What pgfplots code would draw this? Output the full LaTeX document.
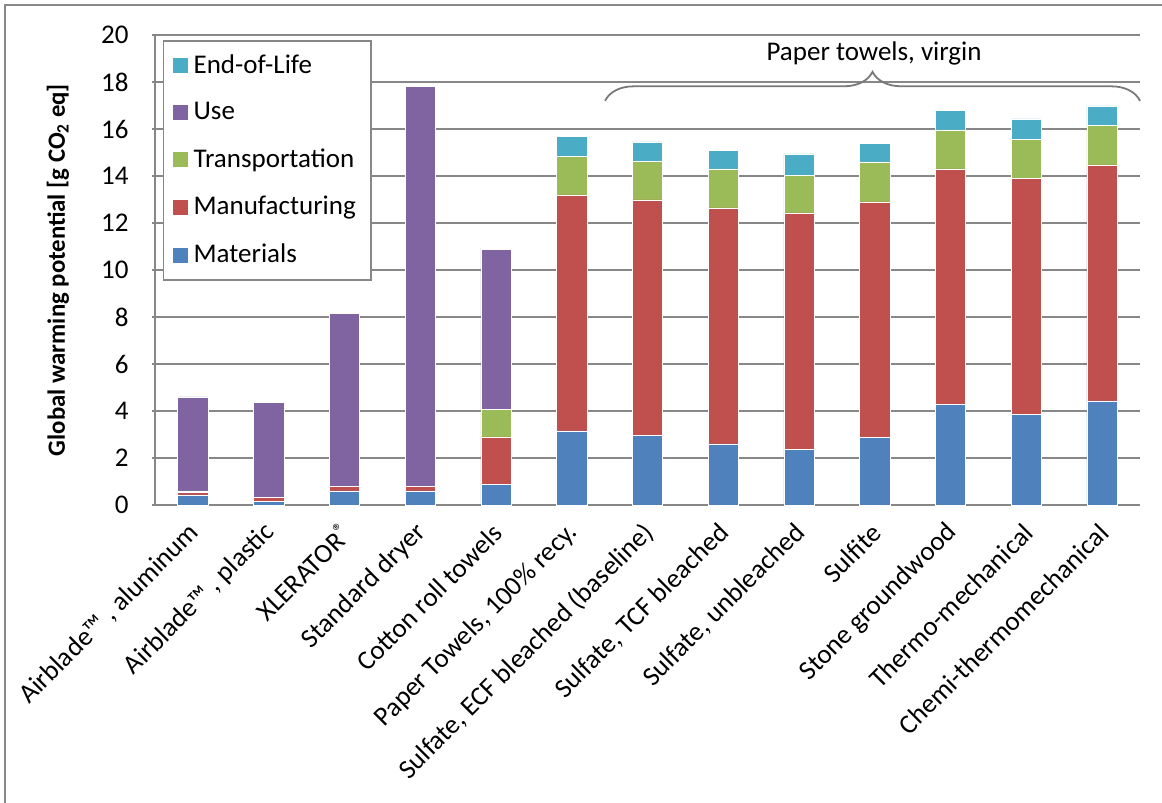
\documentclass[border=0pt]{standalone}
\usepackage{fontspec}
\setmainfont{Carlito}
\usepackage{pgfplots}
\usepackage{pgfplotstable}
\pgfplotsset{compat=1.18}
\usetikzlibrary{decorations.pathreplacing}

\definecolor{cmat}{HTML}{4F81BD}
\definecolor{cman}{HTML}{C0504D}
\definecolor{ctra}{HTML}{9BBB59}
\definecolor{cuse}{HTML}{8064A2}
\definecolor{ceol}{HTML}{4BACC6}
\definecolor{cgrid}{HTML}{878787}

% x  materials  manufacturing  transport  use  eol
\pgfplotstableread{
x  mat   man    tra   use    eol
0  0.43  0.12   0.05  4.00   0.00
1  0.15  0.18   0.00  4.02   0.00
2  0.60  0.20   0.00  7.35   0.00
3  0.60  0.18   0.00  17.02  0.00
4  0.88  2.02   1.18  6.80   0.05
5  3.15  10.05  1.65  0.00   0.85
6  2.95  10.03  1.65  0.00   0.82
7  2.60  10.04  1.66  0.00   0.80
8  2.37  10.06  1.61  0.00   0.90
9  2.87  10.03  1.70  0.00   0.80
10 4.27  10.03  1.66  0.00   0.84
11 3.85  10.05  1.67  0.00   0.86
12 4.43  10.04  1.70  0.00   0.81
}\gwp

\newcommand{\reg}{\raisebox{0.6ex}{\fontsize{10}{10}\selectfont ®}}

\begin{document}
\fontsize{13.5}{16}\selectfont
\begin{tikzpicture}
\useasboundingbox (-77.5pt,-149pt) rectangle (503.5pt,252.5pt);
\draw[cgrid, line width=0.75pt] (-75pt,-149pt) -- (-75pt,250pt) -- (503.5pt,250pt);
\begin{axis}[
    at={(0pt,0pt)}, anchor=south west,
    scale only axis,
    width=492.5pt, height=235pt,
    ybar stacked,
    bar width=0.4,
    xmin=-0.5, xmax=12.5,
    ymin=0, ymax=20,
    ytick={0,2,...,20},
    xtick={0,...,12},
    xticklabels={
        {Airblade™ , aluminum},
        {Airblade™ , plastic},
        {XLERATOR\reg},
        {Standard dryer},
        {Cotton roll towels},
        {Paper Towels, 100\% recy.},
        {Sulfate, ECF bleached (baseline)},
        {Sulfate, TCF bleached},
        {Sulfate, unbleached},
        {Sulfite},
        {Stone groundwood},
        {Thermo-mechanical},
        {Chemi-thermomechanical}},
    minor xtick={-0.5,0.5,...,12.5},
    xtick style={draw=none},
    minor tick length=3.5pt,
    major tick length=3pt,
    tick align=inside,
    tick style={cgrid, line width=0.75pt},
    axis x line=bottom, axis y line=left,
    axis line style={cgrid, line width=0.75pt, -},
    ymajorgrids=true,
    grid style={cgrid, line width=0.65pt},
    /pgf/number format/assume math mode=true,
    yticklabel style={xshift=-7pt},
    xticklabel style={xshift=4.2pt, yshift=-7pt, rotate=45, anchor=east},
    ylabel={Global warming potential [g CO\textsubscript{2} eq]},
    every axis y label/.style={at={(axis description cs:-0.0985,0.5)},
        rotate=90, anchor=center, font=\bfseries\fontsize{12.4}{14}\selectfont},
    clip=false,
    reverse legend,
    legend cell align=left,
    legend image code/.code={\fill[#1,draw=none] (0pt,-3.75pt) rectangle (7.5pt,3.75pt);},
    legend style={at={(axis description cs:0.008,0.989)}, anchor=north west,
        draw=cgrid, line width=0.75pt, fill=white,
        inner xsep=4.5pt, inner ysep=3.75pt, row sep=6.5pt,
        nodes={inner sep=3pt}},
    every axis plot/.append style={draw=white, line width=0.3pt},
]
\addplot[fill=cmat] table[x=x,y=mat] {\gwp};
\addlegendentry{Materials}
\addplot[fill=cman] table[x=x,y=man] {\gwp};
\addlegendentry{Manufacturing}
\addplot[fill=ctra] table[x=x,y=tra] {\gwp};
\addlegendentry{Transportation}
\addplot[fill=cuse] table[x=x,y=use] {\gwp};
\addlegendentry{Use}
\addplot[fill=ceol] table[x=x,y=eol] {\gwp};
\addlegendentry{End-of-Life}

\draw[cgrid!90!black, line width=0.9pt, decorate,
      decoration={brace, amplitude=14.5pt}]
    (axis cs:5.44,17.2) -- (axis cs:12.5,17.2);
\node at (axis cs:8.99,19.2) {Paper towels, virgin};
\end{axis}
\end{tikzpicture}
\end{document}
